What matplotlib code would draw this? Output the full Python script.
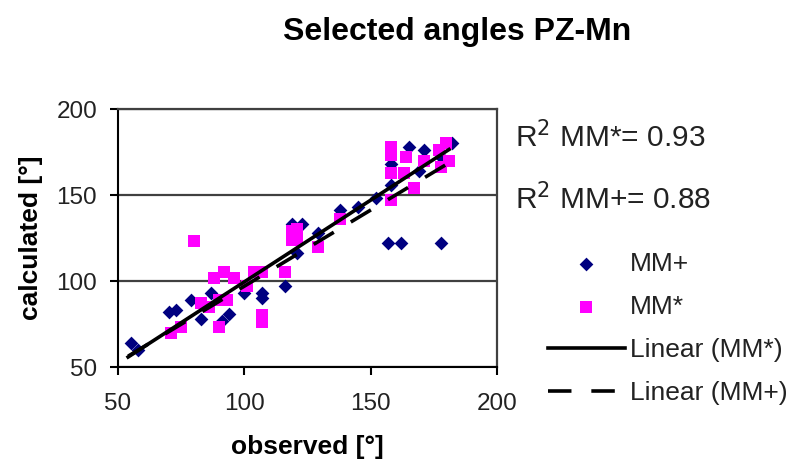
import matplotlib.pyplot as plt
import numpy as np

plt.rcParams['font.family'] = ['Liberation Sans', 'DejaVu Sans']

# MM+ (navy diamonds)
mmp_obs = [55, 58, 70, 73, 79, 83, 87, 91, 94, 100, 107, 107, 116, 119, 123,
           121, 129, 138, 145, 152, 158, 158, 165, 169, 171, 178, 182,
           157, 162, 178]
mmp_calc = [64, 60, 82, 83, 89, 78, 93, 77, 81, 93, 93, 90, 97, 133, 133,
            116, 128, 141, 143, 148, 156, 168, 178, 164, 176, 172, 180,
            122, 122, 122]

# MM* (magenta squares)
mms_obs = [71, 75, 80, 83, 86, 88, 90, 90, 93, 92, 96, 101, 104, 107, 107,
           107, 116, 119, 119, 121, 121, 129, 138, 158, 158, 158, 158, 164,
           163, 167, 171, 177, 180, 178, 181]
mms_calc = [70, 73, 123, 87, 85, 102, 73, 89, 89, 105, 102, 97, 105, 105, 80,
            76, 105, 129, 124, 130, 124, 120, 136, 178, 173, 163, 147, 172,
            163, 154, 170, 176, 180, 166, 170]

# trendline coefficients (slope, intercept) and x range
fit_mms = (0.95, 4.5)
fit_mmp = (0.885, 8.5)
fit_x = [54, 181]

r2_mms = 0.93
r2_mmp = 0.88

fig = plt.figure(figsize=(7.88, 4.71), dpi=100)
ax = fig.add_axes([118 / 788, 1 - 367 / 471, (497 - 118) / 788, (367 - 109) / 471])

ax.scatter(mmp_obs, mmp_calc, marker='D', s=7 ** 2, color='#000080',
           linewidths=0, label='MM+', zorder=3)
ax.scatter(mms_obs, mms_calc, marker='s', s=9 ** 2, color='#ff00ff',
           linewidths=0, label='MM*', zorder=3)

xs = np.array(fit_x, dtype=float)
ax.plot(xs, fit_mms[0] * xs + fit_mms[1], color='black', lw=2.6,
        label='Linear (MM*)', zorder=4)
ax.plot(xs, fit_mmp[0] * xs + fit_mmp[1], color='black', lw=2.6,
        dashes=(6.5, 5.5), label='Linear (MM+)', zorder=4)

ax.set_xlim(50, 200)
ax.set_ylim(50, 200)
ax.set_xticks([50, 100, 150, 200])
ax.set_yticks([50, 100, 150, 200])
ax.yaxis.grid(True, color='#404040', lw=1.6)
ax.set_axisbelow(True)
for side in ['left', 'bottom']:
    ax.spines[side].set_color('black')
    ax.spines[side].set_linewidth(1.5)
for side in ['top', 'right']:
    ax.spines[side].set_color('#404040')
    ax.spines[side].set_linewidth(1.6)
ax.tick_params(direction='out', length=6, width=1.5, labelsize=17.5,
               colors='black')
ax.tick_params(axis='x', pad=13)
ax.tick_params(axis='y', pad=9)
for lab in ax.get_xticklabels() + ax.get_yticklabels():
    lab.set_color('#222222')

ax.set_xlabel('observed [°]', fontsize=19, fontweight='bold', labelpad=14)
ax.set_ylabel('calculated [°]', fontsize=19, fontweight='bold', labelpad=10)

fig.text(457 / 788, 1 - 32 / 471, 'Selected angles PZ-Mn', fontsize=23,
         fontweight='bold', ha='center', va='center')

fig.text(515 / 788, 1 - 137 / 471, f'R$^2$ MM*= {r2_mms:.2f}', fontsize=21.5,
         ha='left', va='center', color='#222222')
fig.text(515 / 788, 1 - 199 / 471, f'R$^2$ MM+= {r2_mmp:.2f}', fontsize=21.5,
         ha='left', va='center', color='#222222')

handles, labels = ax.get_legend_handles_labels()
leg = fig.legend(handles, labels,
                 loc='upper left', bbox_to_anchor=(548 / 788, 1 - 252 / 471),
                 frameon=False, fontsize=19, handlelength=2.9,
                 handletextpad=0.2, labelspacing=0.72, borderpad=0,
                 borderaxespad=0)
for t in leg.get_texts():
    t.set_color('#222222')

fig.savefig('out.png', dpi=100)
